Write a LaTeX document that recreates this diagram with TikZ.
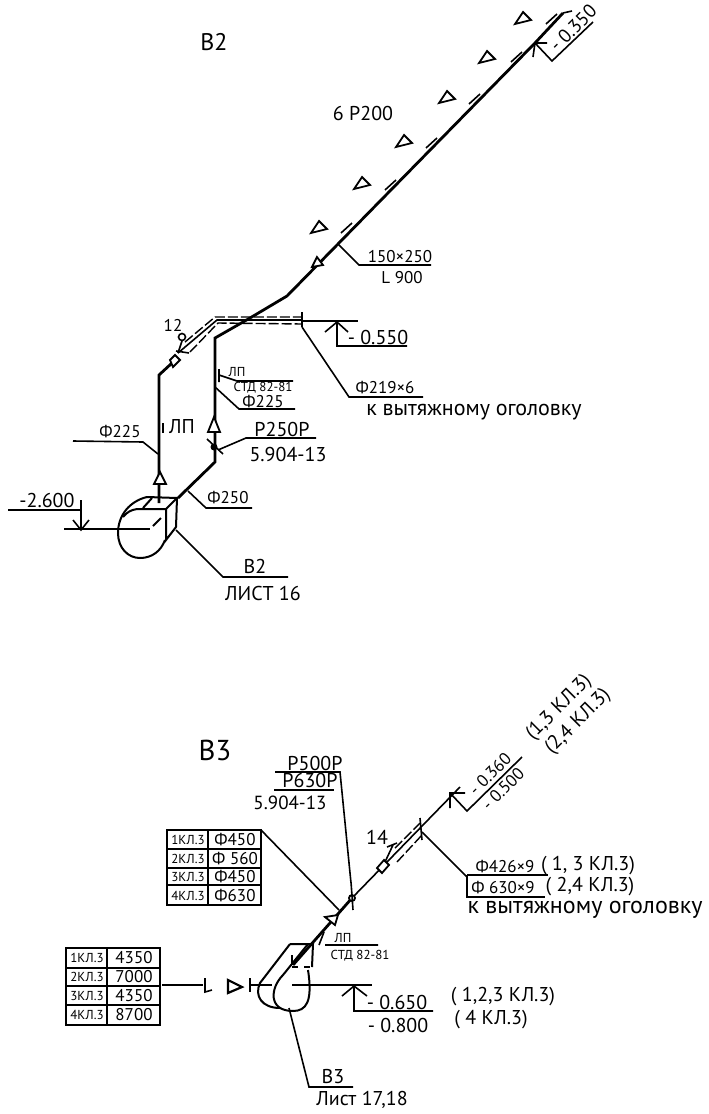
\documentclass[tikz,border=0pt]{standalone}
\usepackage{fontspec}
\setmainfont{PT Sans}
\tikzset{
    pipe/.style={line width=1.4pt},
    leader/.style={line width=0.8pt},
    casing/.style={line width=1pt},
    sleeve/.style={line width=0.7pt,dash pattern=on 5pt off 1.5pt},
    flowmark/.style={line width=0.9pt,fill=white},
    label/.style={inner sep=0pt},
    tiny/.style={inner sep=0pt,font=\fontsize{6.5}{7}\selectfont},
    little/.style={inner sep=0pt,font=\fontsize{8.5}{9}\selectfont},
    medium/.style={inner sep=0pt,font=\fontsize{9.5}{10}\selectfont},
    wide/.style={inner sep=0pt,font=\fontsize{11}{12}\selectfont},
    slanted/.style={rotate=45}
}
\begin{document}
\begin{tikzpicture}[x=0.5pt,y=-0.5pt]
    \useasboundingbox (0,0) rectangle (708,1114);

    % ---- V2 ----
    \begin{scope}[font=\normalsize]
    \coordinate (topend) at (563,13);
    \coordinate (levtop) at (535,43);
    \coordinate (kink) at (287,296);
    \coordinate (cross) at (250,318);
    \coordinate (rtop) at (215,338);
    \coordinate (rlow) at (215,462);
    \coordinate (fanout) at (178,498);
    \coordinate (ltop) at (159,375);
    \coordinate (lfan) at (159,503);

    \draw[pipe] (topend) -- (levtop) -- (kink) -- (cross) -- (rtop) -- (rlow) -- (fanout);
    \draw[pipe] (lfan) -- (ltop) -- (172,363);
    \draw[leader] (563,13) -- (572,11);
    \draw[leader] (178,353) -- (217,320) -- (302,320);
    \draw[sleeve] (185,342) -- (215,317) -- (302,317);
    \draw[sleeve] (190,352) -- (218,323) -- (302,324);
    \draw[leader] (302,312) -- (302,327);

    \foreach \x/\y in {341/233,385/190,426/148,469/104,511/62,546/24}
        \draw[leader] (\x,\y) -- ++(11,-10);
    \foreach \x/\y in {319/228,362/184,404/142,447/98,487/58,523/19}
        \draw[flowmark] (\x,\y-7) -- (\x+8,\y+1) -- (\x-8,\y+5) -- cycle;

    % flow arrows
    \draw[flowmark] (312,267) -- (317,257) -- (323,265) -- cycle;
    \draw[flowmark] (214,417) -- (208,432) -- (220,432) -- cycle;
    \draw[flowmark] (160,472) -- (154,484) -- (166,484) -- cycle;

    % valve and damper
    \draw[flowmark] (170,360) -- (175,355) -- (180,360) -- (173,367) -- cycle;
    \draw[leader] (182,341) -- (178,353);
    \draw[leader] (176,351) -- (189,353);
    \draw[leader] (182,337) circle (3.5);
    \fill (214,447) circle (3.5);
    \draw[leader] (207,439) -- (223,454);

    % fan
    \draw[casing] (147,497) .. controls (130,501) and (118,515) .. (118,533)
        .. controls (118,548) and (128,558) .. (140,558)
        .. controls (152,558) and (161,551) .. (165,540);
    \draw[casing] (123,517) .. controls (127,512) and (131,510) .. (137,509);
    \draw[casing] (137,509) -- (166,509) -- (166,540) -- (176,527) -- (177,498) -- (147,497);
    \draw[casing] (143,508) -- (152,498);
    \draw[casing] (166,509) -- (177,498);
    \draw[casing] (153,526) -- (161,518);
    \draw[leader] (64,529) -- (150,529);

    % level marks
    \draw[leader] (8,510) -- (82,510);
    \draw[leader] (81,500) -- (81,530) (73,520) -- (81,530) -- (89,520);
    \draw[leader] (302,321) -- (358,321);
    \draw[leader] (325,332) -- (337,322) -- (348,332) (337,322) -- (337,346) -- (407,346);
    \draw[leader] (547,43) -- (535,43) -- (533,57) (535,43) -- (552,61) -- (593,22);

    % leaders
    \draw[leader] (338,244) -- (359,265) -- (431,265);
    \draw[leader] (302,327) -- (349,397) -- (423,397);
    \draw[leader] (219,369) -- (219,382) (219,375) -- (237,381) -- (293,381);
    \draw[leader] (215,387) -- (239,409) -- (295,409);
    \draw[leader] (163,423) -- (163,433);
    \draw[leader] (73,441) -- (143,442) -- (158,454);
    \draw[leader] (218,450) -- (246,438) -- (316,438);
    \draw[leader] (188,491) -- (206,508) -- (252,508);
    \draw[leader] (176,530) -- (223,577) -- (288,577);

    \draw node[label,font=\large] (titleb) at (214,42) {В2};
    \draw node[label] (branch) at (363,113) {6 Р200};
    \draw node[medium,slanted] (lev350) at (573,28) {- 0.350};
    \draw node[little,label] (size) at (400,257) {150×250};
    \draw node[little,label] (len) at (402,278) {L 900};
    \draw node[little] (num12) at (173,325) {12};
    \draw node[label] (lev550) at (378,337) {- 0.550};
    \draw node[little] (pipe219) at (385,388) {Ф219×6};
    \draw node[wide] (tohead) at (474,412) {к вытяжному оголовку};
    \draw node[tiny] (lp) at (237,372) {ЛП};
    \draw node[tiny] (std) at (263,388) {СТД 82-81};
    \draw node[little] (pipe225r) at (263,402) {Ф225};
    \draw node[label] (lp1) at (182,427) {ЛП};
    \draw node[little] (pipe225l) at (120,432) {Ф225};
    \draw node[label] (damper) at (282,429) {Р250Р};
    \draw node[label] (series) at (288,454) {5.904-13};
    \draw node[little] (pipe250) at (228,498) {Ф250};
    \draw node[label] (lev260) at (47,500) {-2.600};
    \draw node[label] (fanb) at (255,566) {В2};
    \draw node[label] (sheetb) at (263,593) {ЛИСТ 16};
    \end{scope}

    % ---- V3 ----
    \begin{scope}[font=\normalsize]
    \coordinate (fantop) at (293,965);
    \coordinate (levend) at (460,787);
    \coordinate (levtip) at (450,793);

    \draw[pipe] (fantop) -- (352,898);
    \draw[leader] (352,898) -- (levend);
    \draw[sleeve] (395,848) -- (420,823);
    \draw[sleeve] (397,862) -- (422,835);
    \draw[leader] (420,818) -- (422,840);
    \draw[flowmark] (338,915) -- (325,917) -- (335,925) -- cycle;
    \draw[flowmark] (377,868) -- (384,860) -- (389,865) -- (382,873) -- cycle;
    \draw[leader] (385,862) -- (393,845) (387,847) -- (397,843);
    \draw[flowmark] (352,898) circle (3);
    \draw[leader] (351,882) -- (353,910);

    % fan
    \draw[casing] (290,944) -- (260,983) .. controls (254,996) and (262,1008) .. (280,1008);
    \draw[casing] (308,944) -- (283,975) .. controls (270,988) and (268,1011) .. (293,1011)
        .. controls (306,1011) and (313,1002) .. (308,970);
    \draw[casing] (290,944) -- (313,944) -- (312,967);
    \draw[leader] (292,955) -- (292,965);
    \draw[leader,dashed] (292,967) -- (312,967);
    \draw[leader] (292,985) -- (372,985);

    % inlet
    \draw[leader] (162,985) -- (203,985);
    \draw[leader] (205,978) -- (205,992) -- (212,990);
    \draw[flowmark,line width=1.1pt] (228,980) -- (242,987) -- (228,993) -- cycle;
    \draw[pipe] (250,978) -- (250,992) (250,985) -- (272,985);

    % level marks
    \draw[leader] (342,996) -- (354,986) -- (367,996) (354,986) -- (354,1011) -- (433,1011);
    \draw[leader] (465,793) -- (levtip) -- (450,808) (levtip) -- (467,811) -- (522,757);

    % leaders
    \draw[leader] (275,772) -- (340,772) -- (351,883);
    \draw[leader] (274,790) -- (334,790);
    \draw[leader] (261,830) -- (339,910);
    \draw[leader] (422,832) -- (467,877);
    \draw[leader] (467,875) -- (548,875) (467,875) -- (467,897) -- (545,897);
    \draw[leader] (319,945) -- (324,932) (325,945) -- (378,945);
    \draw[leader] (289,1008) -- (309,1087) -- (353,1087);

    % tables
    \draw[line width=1.2pt] (167,830) rectangle (261,905);
    \draw[leader] (167,849) -- (261,849) (167,868) -- (261,868) (167,885) -- (261,885);
    \draw[leader] (208,830) -- (208,905);
    \foreach \y/\a/\b [count=\n] in {840/1/Ф450,859/2/Ф 560,877/3/Ф450,896/4/Ф630} {
        \draw node[tiny] (pipeclass\n) at (188,\y) {\a КЛ.3};
        \draw node[little] (pipedia\n) at (235,\y) {\b};
    }
    \draw[line width=1.2pt] (66,948) rectangle (160,1025);
    \draw[leader] (66,968) -- (160,968) (66,986) -- (160,986) (66,1005) -- (160,1005);
    \draw[leader] (107,948) -- (107,1025);
    \foreach \y/\a/\b [count=\n] in {958/1/4350,977/2/7000,996/3/4350,1015/4/8700} {
        \draw node[tiny] (fanclass\n) at (87,\y) {\a КЛ.3};
        \draw node[little] (fanflow\n) at (134,\y) {\b};
    }

    \draw node[label,font=\Large] (titlec) at (215,750) {В3};
    \draw node[label] (valve500) at (315,763) {Р500Р};
    \draw node[label] (valve630) at (310,780) {Р630Р};
    \draw node[medium] (seriesc) at (290,803) {5.904-13};
    \draw node[label] (num14) at (377,837) {14};
    \draw node[little,slanted] (lev360) at (490,774) {- 0.360};
    \draw node[little,slanted] (lev500) at (503,789) {- 0.500};
    \draw node[label,slanted] (cls13) at (559,708) {(1,3 КЛ.3)};
    \draw node[label,slanted] (cls24) at (578,722) {(2,4 КЛ.3)};
    \draw node[little] (pipe426) at (505,867) {Ф426×9};
    \draw node[little] (pipe630) at (503,888) {Ф 630×9};
    \draw node[label] (note13) at (588,866) {( 1, 3 КЛ.3)};
    \draw node[label] (note24) at (590,887) {( 2,4 КЛ.3)};
    \draw node[inner sep=0pt,font=\fontsize{12}{13}\selectfont] (toheadc) at (585,910) {к вытяжному оголовку};
    \draw node[tiny] (lpc) at (343,938) {ЛП};
    \draw node[tiny] (stdc) at (360,956) {СТД 82-81};
    \draw node[label] (lev650) at (397,1002) {- 0.650};
    \draw node[label] (lev800) at (398,1025) {- 0.800};
    \draw node[label] (note123) at (503,997) {( 1,2,3 КЛ.3)};
    \draw node[label] (note4) at (491,1020) {( 4 КЛ.3)};
    \draw node[label] (fanc) at (333,1077) {В3};
    \draw node[label] (sheetc) at (362,1100) {Лист 17,18};
    \end{scope}
\end{tikzpicture}
\end{document}
